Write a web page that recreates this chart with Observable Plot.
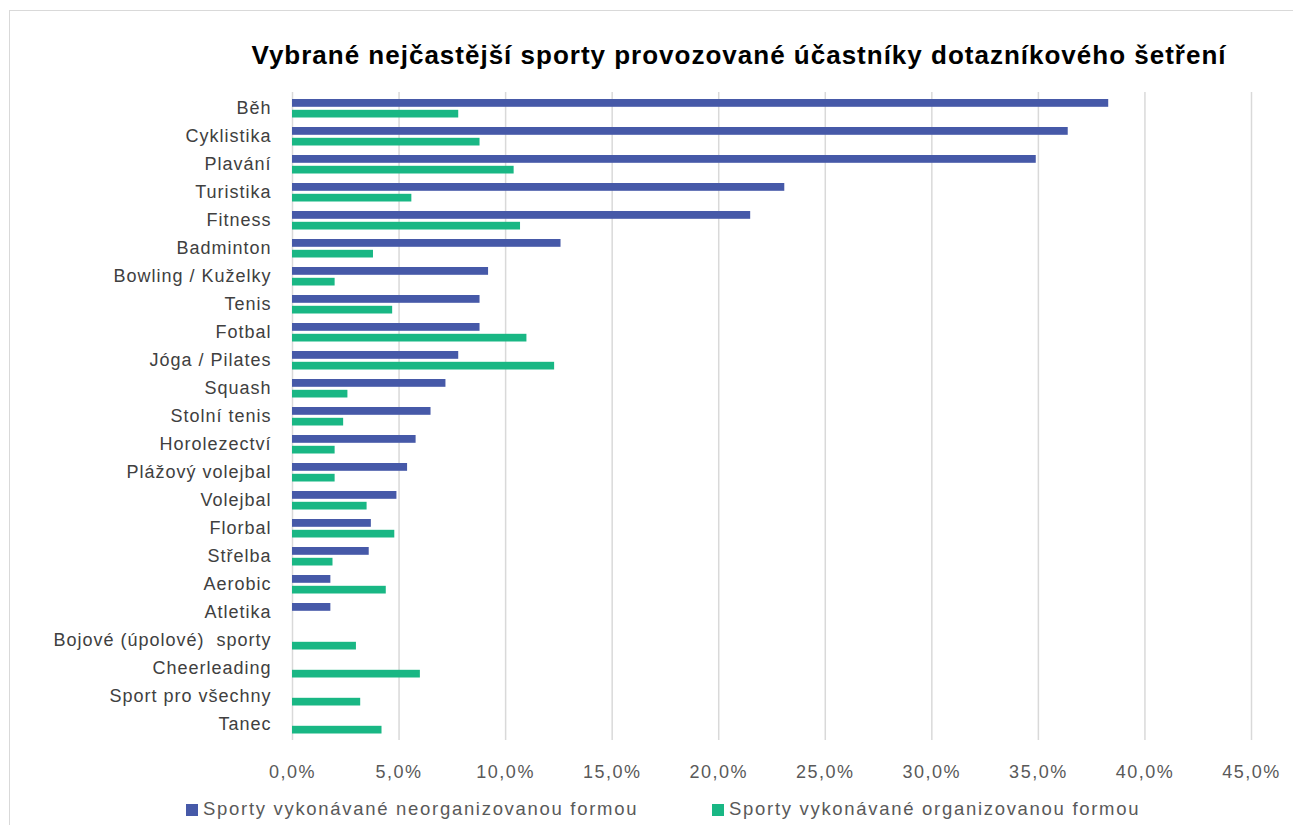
<!DOCTYPE html>
<html>
<head>
<meta charset="utf-8">
<script src="https://cdn.jsdelivr.net/npm/d3@7"></script>
<script src="https://cdn.jsdelivr.net/npm/@observablehq/plot@0.6"></script>
<style>
  html, body { margin: 0; padding: 0; background: #fff; }
  body { width: 1293px; height: 825px; position: relative; overflow: hidden; font-family: "Liberation Sans", Arial, sans-serif; }
  #frame { position: absolute; left: 9px; top: 10px; width: 1300px; height: 830px; border: 1px solid #D9D9D9; box-sizing: border-box; }
  #title { position: absolute; left: 0; width: 1478px; top: 40px; text-align: center; font-weight: bold; font-size: 26px; letter-spacing: 1px; color: #000; white-space: nowrap; }
  #chart { position: absolute; left: 0; top: 80px; }
  #chart svg g[aria-label="y-axis tick label"] text { letter-spacing: 1px; }
  #chart svg g[aria-label="x-axis tick label"] text { letter-spacing: 1.5px; }
  #legend { position: absolute; top: 798px; left: 0; width: 1293px; height: 26px; font-size: 18.5px; letter-spacing: 1.7px; color: #595959; }
  .item { position: absolute; top: 0; white-space: nowrap; }
  .sw { display: inline-block; width: 12px; height: 12px; margin-right: 5px; vertical-align: -1px; }
</style>
</head>
<body>
<div id="frame"></div>
<div id="title">Vybrané nejčastější sporty provozované účastníky dotazníkového šetření</div>
<div id="chart"></div>
<div id="legend"></div>
<script>
const categories = ["Běh","Cyklistika","Plavání","Turistika","Fitness","Badminton","Bowling / Kuželky","Tenis","Fotbal","Jóga / Pilates","Squash","Stolní tenis","Horolezectví","Plážový volejbal","Volejbal","Florbal","Střelba","Aerobic","Atletika","Bojové (úpolové)  sporty","Cheerleading","Sport pro všechny","Tanec"];
const neorganizovane = [38.3,36.4,34.9,23.1,21.5,12.6,9.2,8.8,8.8,7.8,7.2,6.5,5.8,5.4,4.9,3.7,3.6,1.8,1.8,null,null,null,null];
const organizovane = [7.8,8.8,10.4,5.6,10.7,3.8,2.0,4.7,11.0,12.3,2.6,2.4,2.0,2.0,3.5,4.8,1.9,4.4,null,3.0,6.0,3.2,4.2];
const xTicks = [0,5,10,15,20,25,30,35,40,45];
const seriesNames = ["Sporty vykonávané neorganizovanou formou","Sporty vykonávané organizovanou formou"];
const colors = ["#4659A8","#19B784"];

const dataN = categories.map((c,i)=>({cat:c, v:neorganizovane[i]})).filter(d=>d.v!=null);
const dataO = categories.map((c,i)=>({cat:c, v:organizovane[i]})).filter(d=>d.v!=null);
const fmt = d => d.toFixed(1).replace(".", ",") + "%";

const chart = Plot.plot({
  width: 1293,
  height: 720,
  marginLeft: 292,
  marginRight: 42,
  marginTop: 12,
  marginBottom: 60,
  style: { fontFamily: "Liberation Sans, Arial, sans-serif", fontSize: "18px", color: "#595959", background: "transparent", overflow: "visible" },
  x: { domain: [0,45], ticks: xTicks, tickFormat: fmt, label: null },
  y: { domain: categories, padding: 0, label: null },
  marks: [
    Plot.gridX(xTicks, { stroke: "#D9D9D9", strokeOpacity: 1, strokeWidth: 1.5 }),
    Plot.barX(dataN, { y: "cat", x: "v", fill: colors[0], insetTop: 5, insetBottom: 15.2 }),
    Plot.barX(dataO, { y: "cat", x: "v", fill: colors[1], insetTop: 15.8, insetBottom: 4.5 }),
    Plot.axisX({ ticks: xTicks, tickFormat: fmt, tickSize: 0, tickPadding: 25, label: null, fill: "#595959", fontSize: 18 }),
    Plot.axisY({ tickSize: 0, tickPadding: 21, label: null, fill: "#404040", fontSize: 18 })
  ]
});
document.getElementById("chart").appendChild(chart);

const legend = document.getElementById("legend");
const lx = [186, 712];
seriesNames.forEach((n,i)=>{
  const d = document.createElement("div");
  d.className = "item";
  d.style.left = lx[i] + "px";
  d.innerHTML = `<span class="sw" style="background:${colors[i]}"></span>${n}`;
  legend.appendChild(d);
});
</script>
</body>
</html>
